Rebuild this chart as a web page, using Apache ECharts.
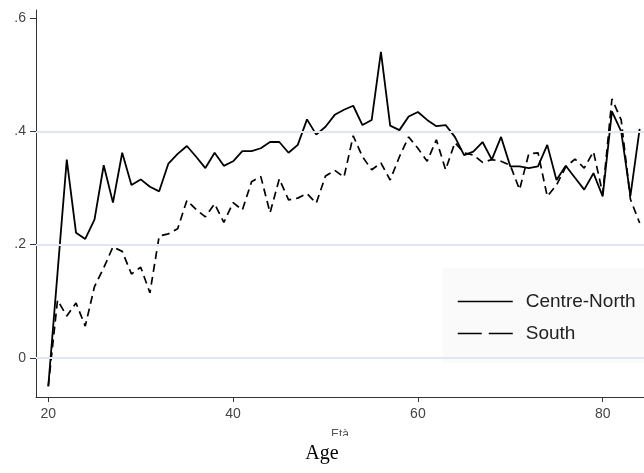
<!DOCTYPE html>
<html>
<head>
<meta charset="utf-8">
<script src="https://cdn.jsdelivr.net/npm/echarts@6/dist/echarts.min.js"></script>
<style>
html,body{margin:0;padding:0;background:#fff;}
#chart{width:644px;height:473px;}
</style>
</head>
<body>
<div id="chart"></div>
<script>
const ages = [20,21,22,23,24,25,26,27,28,29,30,31,32,33,34,35,36,37,38,39,40,41,42,43,44,45,46,47,48,49,50,51,52,53,54,55,56,57,58,59,60,61,62,63,64,65,66,67,68,69,70,71,72,73,74,75,76,77,78,79,80,81,82,83,84];
const centreNorth = [-0.05,0.15,0.35,0.221,0.21,0.244,0.34,0.274,0.362,0.305,0.315,0.302,0.294,0.343,0.36,0.374,0.355,0.335,0.362,0.339,0.347,0.365,0.365,0.37,0.381,0.381,0.362,0.376,0.421,0.394,0.408,0.429,0.438,0.445,0.411,0.42,0.54,0.41,0.402,0.426,0.434,0.42,0.409,0.411,0.39,0.358,0.364,0.381,0.35,0.39,0.338,0.338,0.335,0.338,0.376,0.314,0.339,0.318,0.297,0.326,0.285,0.435,0.40,0.286,0.404];
const south = [-0.05,0.102,0.074,0.097,0.056,0.126,0.159,0.196,0.188,0.148,0.16,0.115,0.215,0.219,0.228,0.278,0.262,0.249,0.272,0.239,0.274,0.261,0.311,0.32,0.256,0.316,0.279,0.282,0.29,0.273,0.321,0.331,0.319,0.392,0.355,0.332,0.344,0.314,0.355,0.39,0.37,0.347,0.385,0.332,0.38,0.362,0.358,0.345,0.35,0.347,0.34,0.297,0.36,0.362,0.285,0.305,0.337,0.351,0.335,0.364,0.29,0.457,0.42,0.28,0.238];
const xTicks = [20,40,60,80];
const yTicks = [0,0.2,0.4,0.6];
const seriesNames = ['Centre-North','South'];
const xTitle = 'Età';
const bottomTitle = 'Age';

const chart = echarts.init(document.getElementById('chart'), null, {renderer:'canvas'});
const fmtY = v => { if (Math.abs(v) < 1e-9) return '0'; return String(Math.round(v*10)/10).replace(/^0\./,'.').replace(/^-0\./,'-.'); };
const font = 'Liberation Sans, Arial, sans-serif';

chart.setOption({
  animation:false,
  backgroundColor:'#ffffff',
  grid:{left:36, top:10, right:0, bottom:76, containLabel:false},
  xAxis:{
    type:'value', min:18.67, max:84.47,
    name:xTitle, nameLocation:'middle', nameGap:32,
    nameTextStyle:{fontSize:12, color:'#555', fontFamily:font},
    axisLine:{show:true, onZero:false, lineStyle:{color:'#333', width:1}},
    axisTick:{show:true, inside:false, length:5, customValues:xTicks, lineStyle:{color:'#333'}},
    axisLabel:{customValues:xTicks, fontSize:14, color:'#444', fontFamily:font, margin:10},
    splitLine:{show:false}
  },
  yAxis:{
    type:'value', min:-0.069, max:0.614,
    axisLine:{show:true, onZero:false, lineStyle:{color:'#333', width:1}},
    axisTick:{show:true, inside:false, length:6, customValues:yTicks, lineStyle:{color:'#333'}},
    axisLabel:{customValues:yTicks, fontSize:14, color:'#444', fontFamily:font, margin:10, formatter:fmtY},
    splitLine:{show:false}
  },
  legend:{
    orient:'vertical', left:443, top:268,
    padding:[24,40,20,14],
    backgroundColor:'#fafafa',
    itemWidth:55, itemHeight:14, itemGap:13,
    itemStyle:{color:'transparent', borderWidth:0, opacity:0},
    textStyle:{fontSize:19, color:'#222', fontFamily:font, lineHeight:18, padding:[0,0,0,8]},
    data:[
      {name:seriesNames[0], lineStyle:{color:'#000', width:1.5, type:'solid'}},
      {name:seriesNames[1], lineStyle:{color:'#000', width:1.5, type:[24,7]}}
    ],
    z:5
  },
  series:[
    {
      name:'grid', type:'line', data:[], silent:true,
      markLine:{silent:true, symbol:'none', label:{show:false},
        lineStyle:{color:'#e0e6f2', width:2, type:'solid'},
        data: yTicks.filter(v => v < 0.5).map(v => ({yAxis:v}))},
      z:1
    },
    {
      name:seriesNames[0], type:'line', symbol:'none', showSymbol:false,
      data: ages.map((a,i)=>[a, centreNorth[i]]),
      lineStyle:{color:'#000', width:1.8, type:'solid'},
      itemStyle:{color:'#000'}, z:3
    },
    {
      name:seriesNames[1], type:'line', symbol:'none', showSymbol:false,
      data: ages.map((a,i)=>[a, south[i]]),
      lineStyle:{color:'#000', width:1.7, type:[8,5]},
      itemStyle:{color:'#000'}, z:3
    }
  ],
  graphic:[
    {type:'rect', left:0, top:436, shape:{width:644, height:37}, style:{fill:'#fff'}, z:100},
    {type:'text', left:'center', top:444, style:{text:bottomTitle, font:'20px "Liberation Serif", "Times New Roman", serif', fill:'#000'}, z:101}
  ]
});
</script>
</body>
</html>
